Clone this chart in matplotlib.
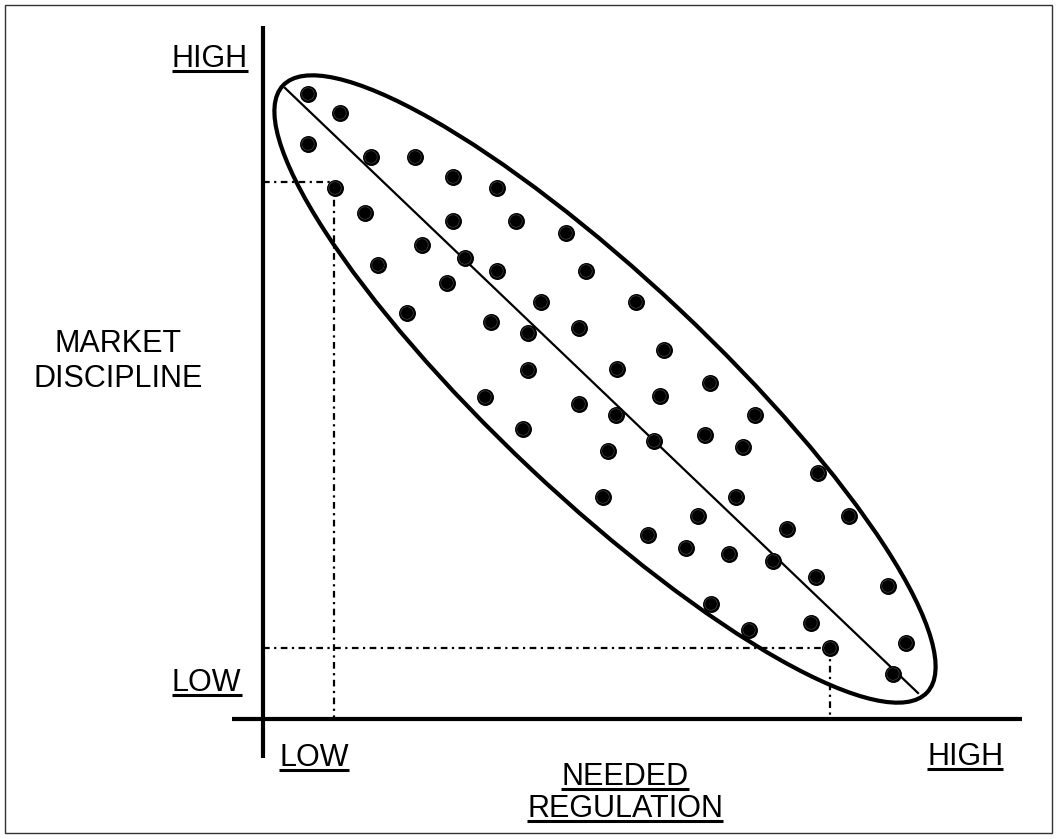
import matplotlib.pyplot as plt
from matplotlib.patches import Ellipse, Rectangle

W, H = 1058, 839

# scatter points (pixel-like coordinates, y grows downward)
dot_x = [308, 340, 308, 371, 415, 453, 497, 335, 365, 453, 516, 566, 422, 465,
         378, 497, 586, 447, 541, 636, 407, 491, 579, 528, 664, 528, 617, 710,
         485, 660, 579, 755, 616, 523, 705, 654, 743, 608, 818, 736, 603, 849,
         698, 787, 648, 686, 729, 773, 816, 888, 711, 749, 811, 906, 830, 893]
dot_y = [94, 113, 144, 157, 157, 177, 188, 188, 213, 221, 221, 233, 245, 258,
         265, 271, 271, 283, 302, 302, 313, 322, 328, 333, 350, 370, 369, 383,
         397, 396, 404, 415, 415, 429, 435, 441, 447, 451, 473, 497, 497, 516,
         516, 529, 535, 548, 554, 561, 577, 586, 604, 630, 623, 643, 648, 674]

# trend line end points
trend_x = [285, 918]
trend_y = [88, 693]

# enclosing ellipse
ell_center = (605, 389)
ell_width, ell_height, ell_angle = 885, 218, 43.3

# axes origin and extents
origin_x, origin_y = 263, 719
yaxis_top, yaxis_bottom = 26, 758
xaxis_left, xaxis_right = 232, 1022

# dotted guide lines (low/high example points)
guide_x = [334, 830]
guide_y = [182, 648]

FS = 22
FONT = 'Liberation Sans'

fig = plt.figure(figsize=(W / 100, H / 100), dpi=100)
ax = fig.add_axes([0, 0, 1, 1])
ax.set_xlim(0, W)
ax.set_ylim(H, 0)
ax.axis('off')

# outer frame
ax.add_patch(Rectangle((5, 5), W - 11, H - 11, fill=False, lw=1, ec='#333333'))

# axes
ax.plot([origin_x, origin_x], [yaxis_top, yaxis_bottom], color='black', lw=3, solid_capstyle='butt')
ax.plot([xaxis_left, xaxis_right], [origin_y, origin_y], color='black', lw=3, solid_capstyle='butt')

# guides
for gx, gy in zip(guide_x, guide_y):
    ax.plot([origin_x, gx], [gy, gy], color='black', lw=1.6, ls=(0, (3, 2, 1, 2)))
    ax.plot([gx, gx], [gy, origin_y], color='black', lw=1.6, ls=(0, (3, 2, 1, 2)))

# ellipse and trend line
ax.add_patch(Ellipse(ell_center, ell_width, ell_height, angle=ell_angle,
                     fill=False, lw=3, ec='black', zorder=3))
ax.plot(trend_x, trend_y, color='black', lw=1.6, zorder=3)

# dots with a faint inner ring
ax.scatter(dot_x, dot_y, s=125, c='black', zorder=4)
ax.scatter(dot_x, dot_y, s=80, facecolors='none', edgecolors='#555555', linewidths=0.4, zorder=5)

# labels
labels = [
    ('HIGH', 172, 67, 'left', True),
    ('LOW', 172, 691, 'left', True),
    ('LOW', 279, 766, 'left', True),
    ('HIGH', 927, 765, 'left', True),
    ('NEEDED', 625, 785, 'center', True),
    ('REGULATION', 625, 817, 'center', True),
    ('MARKET', 118, 352, 'center', False),
    ('DISCIPLINE', 118, 387, 'center', False),
]
texts = []
for s, x, y, ha, ul in labels:
    t = ax.text(x, y, s, ha=ha, va='baseline', fontsize=FS, family=FONT)
    texts.append((t, y, ul))

fig.canvas.draw()
r = fig.canvas.get_renderer()
inv = ax.transData.inverted()
for t, y, ul in texts:
    if not ul:
        continue
    bb = t.get_window_extent(r)
    (x0, _), (x1, _) = inv.transform([[bb.x0, 0], [bb.x1, 0]])
    ax.plot([x0, x1], [y + 4, y + 4], color='black', lw=2.2, solid_capstyle='butt')

fig.savefig('out.png', dpi=100)
